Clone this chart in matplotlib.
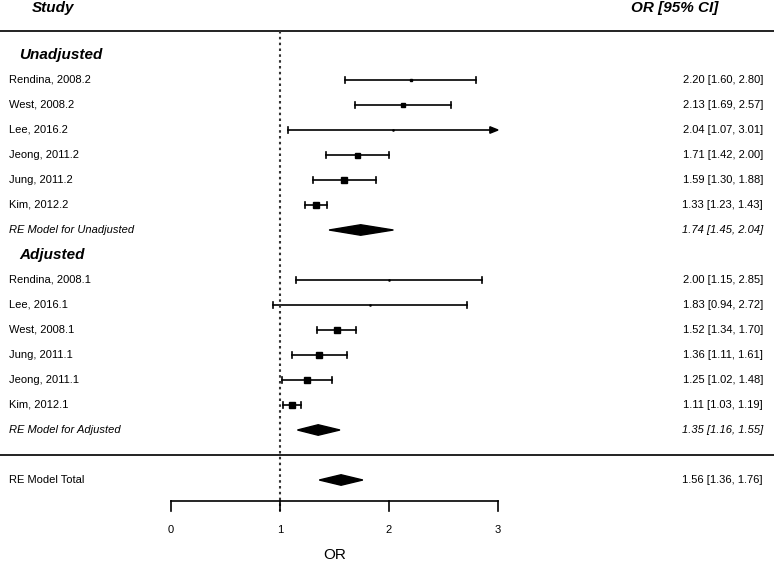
import numpy as np
import matplotlib
matplotlib.use('Agg')
import matplotlib.pyplot as plt
from matplotlib.patches import Polygon

plt.rcParams['font.family'] = ['Liberation Sans', 'DejaVu Sans']

# study data (rows from top)
unadj_names = ['Rendina, 2008.2', 'West, 2008.2', 'Lee, 2016.2', 'Jeong, 2011.2', 'Jung, 2011.2', 'Kim, 2012.2']
unadj_or = [2.20, 2.13, 2.04, 1.71, 1.59, 1.33]
unadj_lo = [1.60, 1.69, 1.07, 1.42, 1.30, 1.23]
unadj_hi = [2.80, 2.57, 3.01, 2.00, 1.88, 1.43]
unadj_w = [1.5, 2.8, 0.8, 3.6, 3.8, 4.6]

adj_names = ['Rendina, 2008.1', 'Lee, 2016.1', 'West, 2008.1', 'Jung, 2011.1', 'Jeong, 2011.1', 'Kim, 2012.1']
adj_or = [2.00, 1.83, 1.52, 1.36, 1.25, 1.11]
adj_lo = [1.15, 0.94, 1.34, 1.11, 1.02, 1.03]
adj_hi = [2.85, 2.72, 1.70, 1.61, 1.48, 1.19]
adj_w = [0.8, 0.8, 4.2, 4.0, 4.0, 4.6]

re_names = ['RE Model for Unadjusted', 'RE Model for Adjusted', 'RE Model Total']
re_or = [1.74, 1.35, 1.56]
re_lo = [1.45, 1.16, 1.36]
re_hi = [2.04, 1.55, 1.76]

xticks = [0, 1, 2, 3]

fig = plt.figure(figsize=(7.74, 5.61), dpi=100)
ax = fig.add_axes([0, 0, 1, 1])
ax.set_xlim(-1.569, 5.532)
ax.set_ylim(22.24, -0.2)
ax.axis('off')

xl = -1.486
xr = 5.431
fs = 8
cap = 0.12
lw = 1.2

def ci_text(o, l, h):
    return '%.2f [%.2f, %.2f]' % (o, l, h)

def draw_study(row, name, o, l, h, w):
    ax.text(xl, row, name, fontsize=fs, va='center', ha='left')
    ax.text(xr, row, ci_text(o, l, h), fontsize=fs, va='center', ha='right')
    if h > 3:
        ax.plot([l, 3 - 0.05], [row, row], color='black', lw=lw)
        ax.add_patch(Polygon([[3 - 0.075, row - 0.13], [3 - 0.075, row + 0.13], [3.0, row]],
                             closed=True, color='black'))
    else:
        ax.plot([l, h], [row, row], color='black', lw=lw)
        ax.plot([h, h], [row - cap, row + cap], color='black', lw=lw)
    ax.plot([l, l], [row - cap, row + cap], color='black', lw=lw)
    ax.plot(o, row, marker='s', color='black', markersize=w, linestyle='none')

def draw_diamond(row, name, o, l, h, italic=True):
    st = 'italic' if italic else 'normal'
    ax.text(xl, row, name, fontsize=fs, va='center', ha='left', style=st)
    ax.text(xr, row, ci_text(o, l, h), fontsize=fs, va='center', ha='right', style=st)
    ax.add_patch(Polygon([[l, row], [o, row - 0.21], [h, row], [o, row + 0.21]],
                         closed=True, color='black'))

# headers
ax.text(-1.08, 0.12, 'Study', fontsize=11, fontweight='bold', style='italic', ha='center', va='center')
ax.text(4.62, 0.12, 'OR [95% CI]', fontsize=11, fontweight='bold', style='italic', ha='center', va='center')
ax.axhline(1.04, color='#222222', lw=1.4)
ax.axhline(18, color='#222222', lw=1.4)

ax.text(-1.39, 2, 'Unadjusted', fontsize=11, fontweight='bold', style='italic', ha='left', va='center')
for i in range(len(unadj_names)):
    draw_study(3 + i, unadj_names[i], unadj_or[i], unadj_lo[i], unadj_hi[i], unadj_w[i])
draw_diamond(9, re_names[0], re_or[0], re_lo[0], re_hi[0])

ax.text(-1.39, 10, 'Adjusted', fontsize=11, fontweight='bold', style='italic', ha='left', va='center')
for i in range(len(adj_names)):
    draw_study(11 + i, adj_names[i], adj_or[i], adj_lo[i], adj_hi[i], adj_w[i])
draw_diamond(17, re_names[1], re_or[1], re_lo[1], re_hi[1])

draw_diamond(19, re_names[2], re_or[2], re_lo[2], re_hi[2], italic=False)

# reference line
ax.plot([1, 1], [1.04, 20.24], color='#333333', lw=1.5, linestyle=(0, (1.2, 1.6)))

# x axis
ax.plot([xticks[0], xticks[-1]], [19.84, 19.84], color='black', lw=lw)
for t in xticks:
    ax.plot([t, t], [19.84, 20.24], color='black', lw=lw)
    ax.text(t, 21, str(t), fontsize=fs, ha='center', va='center')
ax.text(1.5, 22, 'OR', fontsize=11, ha='center', va='center')

fig.savefig('out.png', dpi=100)
